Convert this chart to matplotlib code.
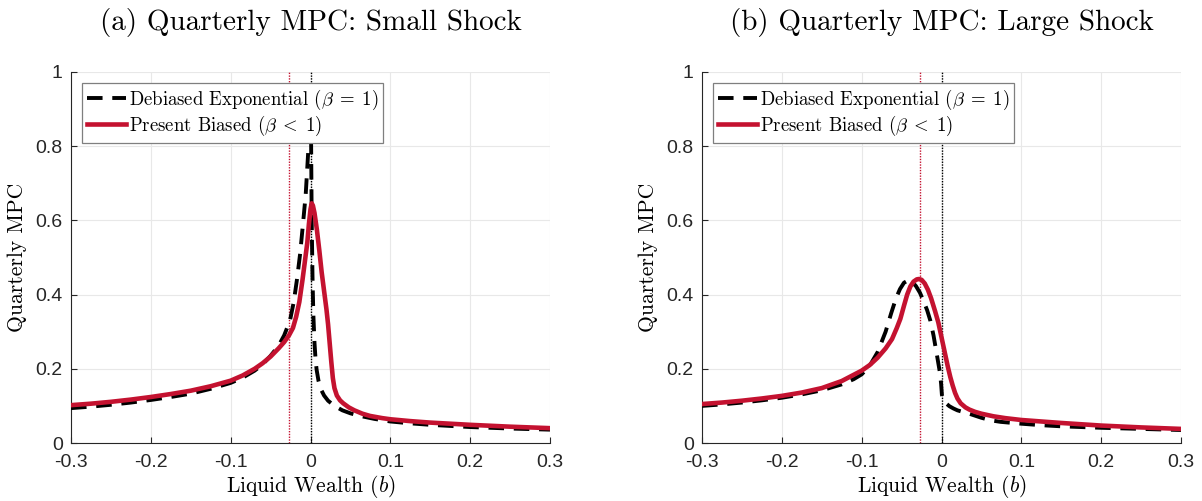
import numpy as np
import matplotlib.pyplot as plt

plt.rcParams['mathtext.fontset'] = 'cm'
plt.rcParams['axes.unicode_minus'] = False

SERIF = 'cmr10'
TICKFONT = 'Liberation Sans'
RED = '#C41230'

# Panel (a): small shock
a_exp_x = [-0.3, -0.275, -0.25, -0.225, -0.2, -0.175, -0.15, -0.125, -0.1, -0.085, -0.07,
           -0.06, -0.05, -0.04, -0.033, -0.0257, -0.021, -0.017, -0.013, -0.009, -0.006,
           -0.003, -0.001, 0.0, 0.0008, 0.0015, 0.0025, 0.0035, 0.005, 0.0065, 0.0077,
           0.01, 0.013, 0.017, 0.022, 0.03, 0.04, 0.05, 0.062, 0.08, 0.1, 0.125, 0.15,
           0.175, 0.2, 0.25, 0.3]
a_exp_y = [0.094, 0.098, 0.103, 0.109, 0.116, 0.124, 0.133, 0.146, 0.162, 0.176, 0.195,
           0.212, 0.235, 0.262, 0.29, 0.33, 0.38, 0.44, 0.51, 0.60, 0.67,
           0.78, 0.88, 0.95, 0.80, 0.60, 0.45, 0.35, 0.27, 0.22, 0.197,
           0.168, 0.145, 0.128, 0.114, 0.10, 0.088, 0.08, 0.073, 0.065, 0.058, 0.053, 0.049,
           0.046, 0.043, 0.039, 0.036]
a_pb_x = [-0.3, -0.275, -0.25, -0.225, -0.2, -0.175, -0.15, -0.125, -0.1, -0.085, -0.07,
          -0.06, -0.05, -0.04, -0.033, -0.027, -0.022, -0.018, -0.014, -0.01, -0.007,
          -0.004, -0.002, 0.0, 0.0015, 0.003, 0.005, 0.008, 0.011, 0.014, 0.017, 0.02,
          0.022, 0.024, 0.026, 0.028, 0.03, 0.033, 0.037, 0.041, 0.048, 0.055, 0.065,
          0.0745, 0.09, 0.1, 0.125, 0.15, 0.175, 0.2, 0.25, 0.3]
a_pb_y = [0.102, 0.106, 0.111, 0.117, 0.124, 0.132, 0.141, 0.153, 0.168, 0.182, 0.2,
          0.215, 0.233, 0.255, 0.272, 0.29, 0.31, 0.34, 0.38, 0.44, 0.49,
          0.54, 0.59, 0.63, 0.646, 0.64, 0.62, 0.575, 0.52, 0.46, 0.41, 0.36,
          0.32, 0.27, 0.22, 0.175, 0.148, 0.128, 0.115, 0.107, 0.096, 0.088, 0.079,
          0.073, 0.067, 0.064, 0.059, 0.055, 0.052, 0.049, 0.044, 0.04]

# Panel (b): large shock
b_exp_x = [-0.3, -0.275, -0.25, -0.225, -0.2, -0.175, -0.15, -0.125, -0.11, -0.1, -0.09,
           -0.08, -0.07, -0.063, -0.057, -0.052, -0.047, -0.042, -0.037, -0.032, -0.027,
           -0.022, -0.018, -0.014, -0.01, -0.0054, -0.002, -0.0005, 0.0005, 0.002, 0.005,
           0.01, 0.015, 0.02, 0.028, 0.036, 0.05, 0.062, 0.074, 0.1, 0.125, 0.15, 0.2,
           0.25, 0.3]
b_exp_y = [0.10, 0.104, 0.109, 0.115, 0.122, 0.131, 0.142, 0.158, 0.172, 0.185, 0.208,
           0.245, 0.30, 0.35, 0.39, 0.415, 0.432, 0.438, 0.435, 0.423, 0.405,
           0.38, 0.358, 0.33, 0.29, 0.233, 0.19, 0.16, 0.13, 0.118, 0.108,
           0.099, 0.093, 0.088, 0.083, 0.078, 0.068, 0.061, 0.057, 0.052, 0.048, 0.045, 0.041,
           0.038, 0.035]
b_pb_x = [-0.3, -0.275, -0.25, -0.225, -0.2, -0.175, -0.15, -0.125, -0.1, -0.09, -0.08,
          -0.07, -0.062, -0.056, -0.0515, -0.047, -0.043, -0.039, -0.035, -0.031, -0.0285,
          -0.025, -0.021, -0.017, -0.013, -0.008, -0.004, -0.0013, 0.002, 0.005, 0.008,
          0.011, 0.014, 0.017, 0.02, 0.024, 0.03, 0.035, 0.042, 0.05, 0.065, 0.08, 0.1,
          0.125, 0.15, 0.2, 0.25, 0.3]
b_pb_y = [0.105, 0.109, 0.114, 0.12, 0.127, 0.136, 0.148, 0.167, 0.195, 0.21, 0.23,
          0.255, 0.28, 0.31, 0.335, 0.37, 0.40, 0.422, 0.435, 0.441, 0.442,
          0.44, 0.43, 0.413, 0.39, 0.355, 0.325, 0.298, 0.265, 0.235, 0.205,
          0.178, 0.155, 0.135, 0.12, 0.107, 0.096, 0.09, 0.084, 0.079, 0.072, 0.067, 0.062,
          0.058, 0.054, 0.047, 0.042, 0.038]

# borrowing limits (vertical markers)
pb_limit = -0.027
exp_limit = 0.0

titles = ['(a) Quarterly MPC: Small Shock', '(b) Quarterly MPC: Large Shock']
xticks = [-0.3, -0.2, -0.1, 0, 0.1, 0.2, 0.3]
xticklabels = ['-0.3', '-0.2', '-0.1', '0', '0.1', '0.2', '0.3']
yticks = [0, 0.2, 0.4, 0.6, 0.8, 1]
yticklabels = ['0', '0.2', '0.4', '0.6', '0.8', '1']

panels = [(a_exp_x, a_exp_y, a_pb_x, a_pb_y), (b_exp_x, b_exp_y, b_pb_x, b_pb_y)]

fig = plt.figure(figsize=(12.02, 5.01), dpi=100)
lefts = [71 / 1202, 702 / 1202]
for i, (ex, ey, px, py) in enumerate(panels):
    ax = fig.add_axes([lefts[i], 58 / 501, 479 / 1202, 371 / 501])
    ax.axvline(pb_limit, color=RED, lw=1.0, ls=(0, (1, 1)), zorder=2)
    ax.axvline(exp_limit, color='black', lw=1.0, ls=(0, (1, 1)), zorder=2)
    ax.plot(ex, ey, color='black', lw=2.8, ls=(0, (4, 2.5)), zorder=3,
            solid_joinstyle='round', dash_joinstyle='round',
            label=r'Debiased Exponential ($\beta\;=\;1$)')
    ax.plot(px, py, color=RED, lw=3.3, zorder=4, solid_joinstyle='round',
            label=r'Present Biased ($\beta\;<\;1$)')

    ax.set_xlim(-0.3, 0.3)
    ax.set_ylim(0, 1)
    ax.set_xticks(xticks)
    ax.set_xticklabels(xticklabels, fontfamily=TICKFONT, fontsize=14)
    ax.set_yticks(yticks)
    ax.set_yticklabels(yticklabels, fontfamily=TICKFONT, fontsize=14)
    ax.tick_params(direction='in', length=4, width=0.8, color='#262626',
                   labelcolor='#262626')
    ax.tick_params(axis='x', pad=8)
    ax.tick_params(axis='y', pad=6)
    ax.grid(True, color='#e8e8e8', lw=0.8)
    ax.set_axisbelow(True)
    for s in ['top', 'right']:
        ax.spines[s].set_visible(False)
    for s in ['left', 'bottom']:
        ax.spines[s].set_color('#262626')
        ax.spines[s].set_linewidth(0.8)

    ax.set_title(titles[i], fontfamily=SERIF, fontsize=21, pad=30)
    ax.set_xlabel(r'Liquid Wealth ($b$)', fontfamily=SERIF, fontsize=15.5, labelpad=1)
    ax.set_ylabel('Quarterly MPC', fontfamily=SERIF, fontsize=15.5, labelpad=6)

    leg = ax.legend(loc='upper left', bbox_to_anchor=(0.015, 0.98),
                    prop={'family': SERIF, 'size': 13.5},
                    handlelength=2.1, handletextpad=0.15, borderpad=0.25,
                    labelspacing=0.1, borderaxespad=0.2, fancybox=False, framealpha=1)
    leg.get_frame().set_edgecolor('#7f7f7f')
    leg.get_frame().set_linewidth(0.9)

fig.savefig('out.png', dpi=100)
